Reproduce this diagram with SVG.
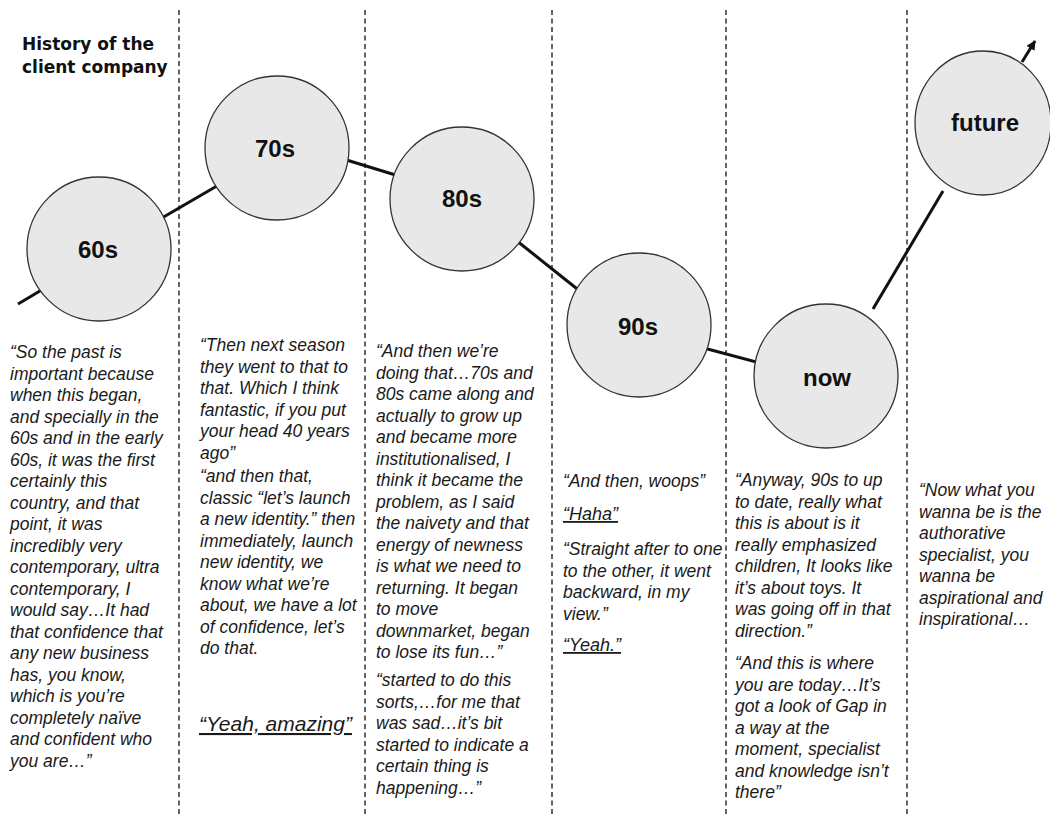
<svg xmlns="http://www.w3.org/2000/svg" width="1050" height="814" viewBox="0 0 1050 814">
<defs>
<style>
.q{font-family:"Liberation Sans",Arial,sans-serif;font-style:italic;font-size:17.5px;fill:#1a1a1a}
.u{text-decoration:underline}
.lbl{font-family:"Liberation Sans",Arial,sans-serif;font-weight:bold;font-size:24px;text-anchor:middle;fill:#111}
.title{font-family:"DejaVu Sans",Verdana,sans-serif;font-weight:bold;font-size:17px;fill:#111}
.node circle,.node ellipse{fill:#e8e8e8;stroke:#333;stroke-width:1.3}
.conn{stroke:#111;stroke-width:3;fill:none;stroke-linecap:butt}
.div{stroke:#222;stroke-width:1.4;stroke-dasharray:5 3.5}
</style>
<marker id="ah" viewBox="0 0 10 10" refX="9" refY="5" markerWidth="3.2" markerHeight="3.2" orient="auto" markerUnits="strokeWidth">
<path d="M0,0 L10,5 L0,10 z" fill="#111"/>
</marker>
</defs>
<rect width="1050" height="814" fill="#fff"/>
<g id="dividers">
<line class="div" x1="179" y1="10" x2="179" y2="814"/>
<line class="div" x1="365" y1="10" x2="365" y2="814"/>
<line class="div" x1="552" y1="10" x2="552" y2="814"/>
<line class="div" x1="726" y1="10" x2="726" y2="814"/>
<line class="div" x1="907" y1="10" x2="907" y2="814"/>
</g>
<g id="title">
<text class="title" x="22" y="50">History of the</text>
<text class="title" x="22" y="73">client company</text>
</g>
<g id="connectors">
<line class="conn" x1="18" y1="304" x2="50" y2="285"/>
<line class="conn" x1="155" y1="222" x2="222" y2="183"/>
<line class="conn" x1="340" y1="158" x2="402" y2="177"/>
<line class="conn" x1="512" y1="237" x2="586" y2="296"/>
<line class="conn" x1="700" y1="347" x2="764" y2="364"/>
<line class="conn" x1="873" y1="309" x2="943" y2="191"/>
<line class="conn" x1="1022" y1="62" x2="1035" y2="41" marker-end="url(#ah)"/>
</g>
<g id="node-60s" class="node"><circle cx="99" cy="249" r="72"/><text class="lbl" x="98" y="258">60s</text></g>
<g id="node-70s" class="node"><circle cx="277" cy="148" r="72"/><text class="lbl" x="275" y="157">70s</text></g>
<g id="node-80s" class="node"><circle cx="462" cy="199" r="72"/><text class="lbl" x="462" y="207">80s</text></g>
<g id="node-90s" class="node"><circle cx="639" cy="325" r="72"/><text class="lbl" x="638" y="335">90s</text></g>
<g id="node-now" class="node"><circle cx="826" cy="376" r="72"/><text class="lbl" x="827" y="386">now</text></g>
<g id="node-future" class="node"><ellipse cx="983" cy="123" rx="68" ry="72"/><text class="lbl" x="985" y="131">future</text></g>
<g id="text-60s">
<text class="q" x="10" y="358"><tspan x="10">“So the past is</tspan><tspan x="10" dy="21.5">important because</tspan><tspan x="10" dy="21.5">when this began,</tspan><tspan x="10" dy="21.5">and specially in the</tspan><tspan x="10" dy="21.5">60s and in the early</tspan><tspan x="10" dy="21.5">60s, it was the first</tspan><tspan x="10" dy="21.5">certainly this</tspan><tspan x="10" dy="21.5">country, and that</tspan><tspan x="10" dy="21.5">point, it was</tspan><tspan x="10" dy="21.5">incredibly very</tspan><tspan x="10" dy="21.5">contemporary, ultra</tspan><tspan x="10" dy="21.5">contemporary, I</tspan><tspan x="10" dy="21.5">would say…It had</tspan><tspan x="10" dy="21.5">that confidence that</tspan><tspan x="10" dy="21.5">any new business</tspan><tspan x="10" dy="21.5">has, you know,</tspan><tspan x="10" dy="21.5">which is you’re</tspan><tspan x="10" dy="21.5">completely naïve</tspan><tspan x="10" dy="21.5">and confident who</tspan><tspan x="10" dy="21.5">you are…”</tspan></text>
</g>
<g id="text-70s">
<text class="q" x="200" y="351"><tspan x="200">“Then next season</tspan><tspan x="200" dy="21.5">they went to that to</tspan><tspan x="200" dy="21.5">that. Which I think</tspan><tspan x="200" dy="21.5">fantastic, if you put</tspan><tspan x="200" dy="21.5">your head 40 years</tspan><tspan x="200" dy="21.5">ago”</tspan></text>
<text class="q" x="200" y="482"><tspan x="200">“and then that,</tspan><tspan x="200" dy="21.5">classic “let’s launch</tspan><tspan x="200" dy="21.5">a new identity.” then</tspan><tspan x="200" dy="21.5">immediately, launch</tspan><tspan x="200" dy="21.5">new identity, we</tspan><tspan x="200" dy="21.5">know what we’re</tspan><tspan x="200" dy="21.5">about, we have a lot</tspan><tspan x="200" dy="21.5">of confidence, let’s</tspan><tspan x="200" dy="21.5">do that.</tspan></text>
<text class="q u" x="199" y="731" style="font-size:21px">“Yeah, amazing”</text>
</g>
<g id="text-80s">
<text class="q" x="376" y="357"><tspan x="376">“And then we’re</tspan><tspan x="376" dy="21.5">doing that…70s and</tspan><tspan x="376" dy="21.5">80s came along and</tspan><tspan x="376" dy="21.5">actually to grow up</tspan><tspan x="376" dy="21.5">and became more</tspan><tspan x="376" dy="21.5">institutionalised, I</tspan><tspan x="376" dy="21.5">think it became the</tspan><tspan x="376" dy="21.5">problem, as I said</tspan><tspan x="376" dy="21.5">the naivety and that</tspan><tspan x="376" dy="21.5">energy of newness</tspan><tspan x="376" dy="21.5">is what we need to</tspan><tspan x="376" dy="21.5">returning. It began</tspan><tspan x="376" dy="21.5">to move</tspan><tspan x="376" dy="21.5">downmarket, began</tspan><tspan x="376" dy="21.5">to lose its fun…”</tspan></text>
<text class="q" x="376" y="686"><tspan x="376">“started to do this</tspan><tspan x="376" dy="21.5">sorts,…for me that</tspan><tspan x="376" dy="21.5">was sad…it’s bit</tspan><tspan x="376" dy="21.5">started to indicate a</tspan><tspan x="376" dy="21.5">certain thing is</tspan><tspan x="376" dy="21.5">happening…”</tspan></text>
</g>
<g id="text-90s">
<text class="q" x="563" y="487">“And then, woops”</text>
<text class="q u" x="563" y="520" style="font-size:18px">“Haha”</text>
<text class="q" x="563" y="555"><tspan x="563">“Straight after to one</tspan><tspan x="563" dy="21.5">to the other, it went</tspan><tspan x="563" dy="21.5">backward, in my</tspan><tspan x="563" dy="21.5">view.”</tspan></text>
<text class="q u" x="563" y="651" style="font-size:18px">“Yeah.”</text>
</g>
<g id="text-now">
<text class="q" x="735" y="486"><tspan x="735">“Anyway, 90s to up</tspan><tspan x="735" dy="21.5">to date, really what</tspan><tspan x="735" dy="21.5">this is about is it</tspan><tspan x="735" dy="21.5">really emphasized</tspan><tspan x="735" dy="21.5">children, It looks like</tspan><tspan x="735" dy="21.5">it’s about toys. It</tspan><tspan x="735" dy="21.5">was going off in that</tspan><tspan x="735" dy="21.5">direction.”</tspan></text>
<text class="q" x="735" y="669"><tspan x="735">“And this is where</tspan><tspan x="735" dy="21.5">you are today…It’s</tspan><tspan x="735" dy="21.5">got a look of Gap in</tspan><tspan x="735" dy="21.5">a way at the</tspan><tspan x="735" dy="21.5">moment, specialist</tspan><tspan x="735" dy="21.5">and knowledge isn’t</tspan><tspan x="735" dy="21.5">there”</tspan></text>
</g>
<g id="text-future">
<text class="q" x="919" y="496"><tspan x="919">“Now what you</tspan><tspan x="919" dy="21.5">wanna be is the</tspan><tspan x="919" dy="21.5">authorative</tspan><tspan x="919" dy="21.5">specialist, you</tspan><tspan x="919" dy="21.5">wanna be</tspan><tspan x="919" dy="21.5">aspirational and</tspan><tspan x="919" dy="21.5">inspirational…</tspan></text>
</g>
</svg>
